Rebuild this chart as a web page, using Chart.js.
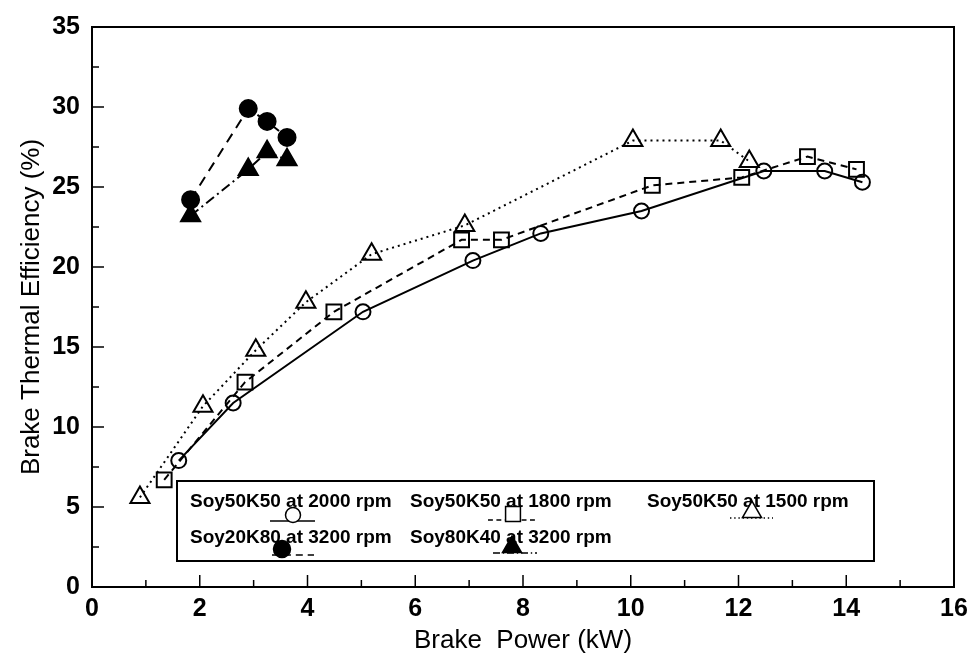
<!DOCTYPE html>
<html>
<head>
<meta charset="utf-8">
<script src="https://cdn.jsdelivr.net/npm/chart.js@4.4.1/dist/chart.umd.min.js"></script>
<style>
  html, body { margin: 0; padding: 0; background: #fff; }
  #wrap { width: 979px; height: 665px; }
</style>
</head>
<body>
<div id="wrap"><canvas id="myChart" width="979" height="665"></canvas></div>
<script>
// data
var power2000 = [1.61, 2.62, 5.03, 7.07, 8.33, 10.2, 12.47, 13.6, 14.3];
var eff2000   = [7.9, 11.5, 17.2, 20.4, 22.1, 23.5, 26.0, 26.0, 25.3];
var power1800 = [1.34, 2.84, 4.49, 6.86, 7.6, 10.4, 12.06, 13.28, 14.19];
var eff1800   = [6.7, 12.8, 17.2, 21.7, 21.7, 25.1, 25.6, 26.9, 26.1];
var power1500 = [0.89, 2.06, 3.04, 3.97, 5.19, 6.92, 10.04, 11.67, 12.2];
var eff1500   = [5.6, 11.3, 14.8, 17.8, 20.8, 22.6, 27.9, 27.9, 26.6];
var powerK80  = [1.83, 2.9, 3.25, 3.62];
var effK80    = [24.2, 29.9, 29.1, 28.1];
var powerK40  = [1.83, 2.9, 3.25, 3.62];
var effK40    = [23.2, 26.1, 27.2, 26.7];

var seriesNames = [
  'Soy50K50 at 2000 rpm',
  'Soy50K50 at 1800 rpm',
  'Soy50K50 at 1500 rpm',
  'Soy20K80 at 3200 rpm',
  'Soy80K40 at 3200 rpm'
];
var xTicks = [0, 2, 4, 6, 8, 10, 12, 14, 16];
var yTicks = [0, 5, 10, 15, 20, 25, 30, 35];

function pts(xs, ys) {
  return xs.map((x, i) => ({x: x, y: ys[i]}));
}

var styles = [
  {pointStyle: 'circle',   radius: 7.5, fill: false, dash: []},
  {pointStyle: 'rect',     radius: 10.5, fill: false, dash: [7, 5]},
  {pointStyle: 'triangle', radius: 11,  fill: false, dash: [2, 4]},
  {pointStyle: 'circle',   radius: 8.5, fill: true,  dash: [10, 7]},
  {pointStyle: 'triangle', radius: 11,  fill: true,  dash: [10, 4, 2, 4]}
];

var allData = [
  pts(power2000, eff2000),
  pts(power1800, eff1800),
  pts(power1500, eff1500),
  pts(powerK80, effK80),
  pts(powerK40, effK40)
];

const data = {
  datasets: allData.map((d, i) => ({
    label: seriesNames[i],
    data: d,
    borderColor: '#000',
    backgroundColor: '#000',
    borderWidth: 2,
    borderDash: styles[i].dash,
    pointStyle: styles[i].pointStyle,
    pointRadius: styles[i].radius,
    pointBorderWidth: 2,
    pointBorderColor: '#000',
    pointBackgroundColor: styles[i].fill ? '#000' : 'rgba(0,0,0,0)',
    showLine: true,
    tension: 0
  }))
};

// box frame + inward ticks
const frameTicks = {
  id: 'frameTicks',
  afterDraw(chart) {
    const {ctx, chartArea: {left, right, top, bottom}, scales: {x, y}} = chart;
    ctx.save();
    ctx.strokeStyle = '#000';
    ctx.lineWidth = 2;
    ctx.strokeRect(left, top, right - left, bottom - top);
    ctx.lineWidth = 1.5;
    for (let v = 0; v <= 16; v++) {
      const px = x.getPixelForValue(v);
      const len = v % 2 === 0 ? 12 : 7;
      ctx.beginPath();
      ctx.moveTo(px, bottom);
      ctx.lineTo(px, bottom - len);
      ctx.stroke();
    }
    for (let v = 0; v <= 35; v += 2.5) {
      const py = y.getPixelForValue(v);
      const len = v % 5 === 0 ? 12 : 7;
      ctx.beginPath();
      ctx.moveTo(left, py);
      ctx.lineTo(left + len, py);
      ctx.stroke();
    }
    ctx.restore();
  }
};

// legend box inside the plot, marker under the text
function drawMarker(ctx, i, cx, cy) {
  const s = styles[i];
  ctx.fillStyle = s.fill ? '#000' : '#fff';
  ctx.strokeStyle = '#000';
  Chart.helpers.drawPoint(ctx, {
    pointStyle: s.pointStyle,
    radius: s.radius,
    rotation: 0,
    borderWidth: 2
  }, cx, cy);
}

const boxLegend = {
  id: 'boxLegend',
  afterDraw(chart) {
    const ctx = chart.ctx;
    const bx = 177, by = 481, bw = 697, bh = 80;
    const entries = [
      {tx: 190, ty: 502, mx: 293, my: 515, l0: 270, l1: 315},
      {tx: 410, ty: 502, mx: 513, my: 514, l0: 488, l1: 537},
      {tx: 647, ty: 502, mx: 752, my: 512, l0: 730, l1: 773},
      {tx: 190, ty: 538, mx: 282, my: 549, l0: 272, l1: 314},
      {tx: 410, ty: 538, mx: 512, my: 547, l0: 493, l1: 537}
    ];
    ctx.save();
    ctx.fillStyle = '#fff';
    ctx.fillRect(bx, by, bw, bh);
    ctx.strokeStyle = '#000';
    ctx.lineWidth = 2;
    ctx.strokeRect(bx, by, bw, bh);
    ctx.font = 'bold 19px "Liberation Sans", Arial, sans-serif';
    ctx.textBaseline = 'middle';
    entries.forEach((e, i) => {
      ctx.fillStyle = '#000';
      ctx.fillText(seriesNames[i], e.tx, e.ty);
      ctx.lineWidth = 1.5;
      ctx.setLineDash(styles[i].dash.map(d => d * 0.7));
      ctx.beginPath();
      ctx.moveTo(e.l0, e.my + 6);
      ctx.lineTo(e.l1, e.my + 6);
      ctx.stroke();
      ctx.setLineDash([]);
      drawMarker(ctx, i, e.mx, e.my);
    });
    ctx.restore();
  }
};

const tickFont = {family: '"Liberation Sans", Arial, sans-serif', size: 25, weight: 'bold'};
const titleFont = {family: '"Liberation Sans", Arial, sans-serif', size: 26};

const config = {
  type: 'scatter',
  data,
  options: {
    responsive: false,
    animation: false,
    layout: {padding: {left: 0, top: 20, right: 25, bottom: 0}},
    plugins: {
      legend: {display: false},
      tooltip: {enabled: false}
    },
    scales: {
      x: {
        type: 'linear',
        min: 0,
        max: 16,
        afterBuildTicks(scale) { scale.ticks = xTicks.map(v => ({value: v})); },
        afterFit(scale) { scale.height = 78; },
        grid: {display: false, drawTicks: false},
        border: {display: true, color: '#000', width: 2},
        ticks: {color: '#000', font: tickFont, padding: 7, maxRotation: 0},
        title: {display: true, text: 'Brake  Power (kW)', color: '#000', font: titleFont, padding: {top: 0, bottom: 9}}
      },
      y: {
        type: 'linear',
        min: 0,
        max: 35,
        afterBuildTicks(scale) { scale.ticks = yTicks.map(v => ({value: v})); },
        afterFit(scale) { scale.width = 92; },
        grid: {display: false, drawTicks: false},
        border: {display: true, color: '#000', width: 2},
        ticks: {color: '#000', font: tickFont, padding: 12},
        title: {display: true, text: 'Brake Thermal Efficiency (%)', color: '#000', font: titleFont, padding: {top: 16, bottom: 0}}
      }
    }
  },
  plugins: [frameTicks, boxLegend]
};

const myChart = new Chart(document.getElementById('myChart'), config);
</script>
</body>
</html>
